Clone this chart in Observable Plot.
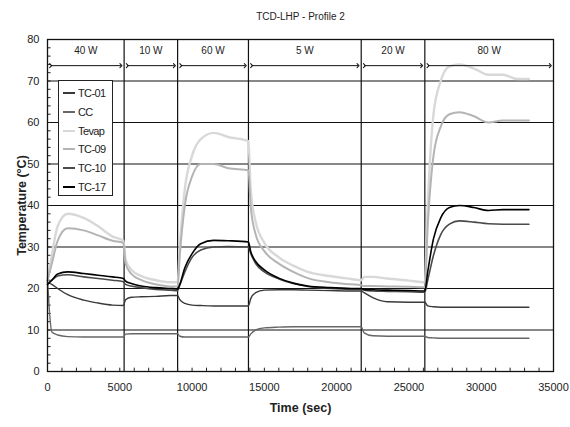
<!DOCTYPE html>
<html><head><meta charset="utf-8">
<script src="https://cdn.jsdelivr.net/npm/d3@7"></script>
<script src="https://cdn.jsdelivr.net/npm/@observablehq/plot@0.6"></script>
<style>
html,body{margin:0;padding:0;background:#fff;}
#wrap{position:relative;width:570px;height:427px;font-family:"Liberation Sans",Arial,sans-serif;}
#legend{position:absolute;left:58px;top:80px;width:53px;height:114px;border:1.5px solid #222;background:#fff;box-sizing:content-box;}
#legend .row{position:absolute;left:4px;height:14px;display:flex;align-items:center;font-size:11px;letter-spacing:-0.6px;color:#222;}
#legend .sw{width:12px;height:0;border-top:2px solid #000;margin-right:3px;}
svg [aria-label="x-axis label"], svg [aria-label="y-axis label"]{font-weight:bold;font-size:12.5px;}
</style>
</head><body>
<div id="wrap"><div id="chart"></div><div id="legend"></div></div>
<script>
const times = [0,300,700,1400,2500,3500,4500,5250,
  5400,5800,6500,7500,8500,9000,
  9150,9500,10000,10600,11500,12500,13900,
  14050,14400,15000,16000,17000,18000,19500,21000,21700,
  21900,22500,23500,25000,26100,
  26300,26700,27200,27800,28500,29500,30500,31500,32500,33300];

const tevap = [22,28,35,38,37,35,32.5,31.5,
  27,24.5,23,22,21.5,21.5,
  30,44,52,56,57.5,56.5,55.5,
  44,36,31,27.5,25.5,24,23,22.3,22,
  22.8,22.8,22.4,21.9,21.5,
  40,62,70,73.5,74,73,71.5,71.5,70.5,70.5];

const tc09 = [22,26,31.5,34.5,34,32.8,31.5,31,
  26,23.5,22,21,20.5,20.5,
  28,40,47,50,50,49,48.5,
  40,33,29,26,24,22.5,21.5,21,20.8,
  20.6,20.6,20.5,20.4,20.3,
  35,52,59,62,62.5,61.5,60,60.5,60.5,60.5];

const tc17 = [21,22,23.5,24,23.6,23.2,22.8,22.4,
  21.8,21.2,20.6,20.2,20,19.9,
  21,25,28.4,30.8,31.6,31.5,31.2,
  29,26.5,24.5,22.5,21.3,20.6,20.2,20,20,
  19.8,19.7,19.6,19.5,19.4,
  24,32,37,39.5,40,39.5,38.8,39,39,39];

const tc10 = [21,22,23,23.3,22.8,22.4,22,21.6,
  21,20.6,20.2,19.8,19.6,19.5,
  20.8,24,27.5,29.3,30,30.1,30,
  28.5,26,24,22.3,21.2,20.5,20,19.8,19.8,
  19.6,19.4,19.3,19.2,19.1,
  22,28,33,35.5,36.3,36,35.6,35.5,35.5,35.5];

const tc01 = [21.5,21,20,18.5,17.2,16.5,16,15.9,
  17.3,17.9,18,18.1,18.3,18.3,
  17.3,16.4,16,15.9,15.8,15.8,15.8,
  17.5,19,19.6,19.7,19.7,19.6,19.5,19.4,19.4,
  19,17.8,16.8,16.7,16.7,
  15.8,15.6,15.5,15.5,15.5,15.5,15.5,15.5,15.5,15.5];

const cc = [22,9.5,8.8,8.4,8.3,8.3,8.3,8.3,
  9,9.1,9.1,9.1,9.1,9.1,
  8.5,8.3,8.3,8.3,8.3,8.3,8.3,
  9,10,10.5,10.7,10.8,10.8,10.8,10.8,10.8,
  9.3,8.6,8.5,8.5,8.5,
  8.2,8.1,8,8,8,8,8,8,8,8];

const seriesNames = ["TC-01","CC","Tevap","TC-09","TC-10","TC-17"];
const seriesColors = ["#3a3a3a","#666666","#d8d8d8","#b4b4b4","#4a4a4a","#000000"];
const seriesWidths = [1.4,1.4,2.4,2,1.6,1.6];
const seriesValues = [tc01, cc, tevap, tc09, tc10, tc17];
const drawOrder = ["Tevap","TC-09","CC","TC-01","TC-10","TC-17"];

const segStarts = [0,5300,9000,13900,21700,26100];
const segEnds = [5300,9000,13900,21700,26100,35000];
const segLabels = ["40 W","10 W","60 W","5 W","20 W","80 W"];

const xTicks = [0,5000,10000,15000,20000,25000,30000,35000];
const yTicks = [0,10,20,30,40,50,60,70,80];
const xMinor = d3.range(1000,35000,1000);
const yMinor = d3.range(2,80,2);

const segs = segStarts.map((s,i)=>({s, e:segEnds[i], label:segLabels[i]}));
const lineMarks = drawOrder.map(name => {
  const k = seriesNames.indexOf(name);
  const rows = times.map((t,i)=>({t, v: seriesValues[k][i]}));
  return Plot.line(rows, {x:"t", y:"v", stroke: seriesColors[k], strokeWidth: seriesWidths[k], curve:"monotone-x"});
});

const chart = Plot.plot({
  width: 570, height: 427,
  marginLeft: 47, marginRight: 17, marginTop: 39, marginBottom: 56,
  style: {fontFamily: '"Liberation Sans", Arial, sans-serif', fontSize: "11px", color: "#222", background: "#fff"},
  x: {domain:[0,35000]},
  y: {domain:[0,80]},
  marks: [
    Plot.ruleY(yTicks, {stroke:"#111", strokeWidth:1.2}),
    Plot.ruleX(segStarts.slice(1), {stroke:"#111", strokeWidth:1.2}),
    Plot.ruleX(xMinor, {y1:0, y2:0.8, stroke:"#222"}),
    Plot.ruleY(yMinor, {x1:0, x2:250, stroke:"#222"}),
    ...lineMarks,
    Plot.link(segs, {x1: d=>d.s+220, x2: d=>d.e-220, y1:73.7, y2:73.7, stroke:"#111", strokeWidth:1, markerStart:"arrow", markerEnd:"arrow"}),
    Plot.text(segs, {x: d=>(d.s+d.e)/2, y:77.3, text:"label", fontSize:10, fill:"#222", letterSpacing:"-0.5px"}),
    Plot.frame({stroke:"#111", strokeWidth:1.3}),
    Plot.text(["TCD-LHP - Profile 2"], {frameAnchor:"top", dy:-27, fontSize:10, fill:"#222", letterSpacing:"-0.3px"}),
    Plot.axisX({ticks:xTicks, tickSize:0, tickPadding:12, tickFormat:d=>String(d), label:"Time (sec)", labelAnchor:"center", labelOffset:40, labelArrow:false}),
    Plot.axisY({ticks:yTicks, tickSize:0, tickPadding:8, label:"Temperature (°C)", labelAnchor:"center", labelOffset:30, labelArrow:false})
  ]
});
document.getElementById("chart").appendChild(chart);

const legend = document.getElementById("legend");
seriesNames.forEach((name,i)=>{
  const row = document.createElement("div");
  row.className = "row";
  row.style.top = (5 + i*18.8) + "px";
  const sw = document.createElement("span");
  sw.className = "sw";
  sw.style.borderTopColor = seriesColors[i];
  const tx = document.createElement("span");
  tx.textContent = name;
  row.appendChild(sw); row.appendChild(tx);
  legend.appendChild(row);
});
</script>
</body></html>
